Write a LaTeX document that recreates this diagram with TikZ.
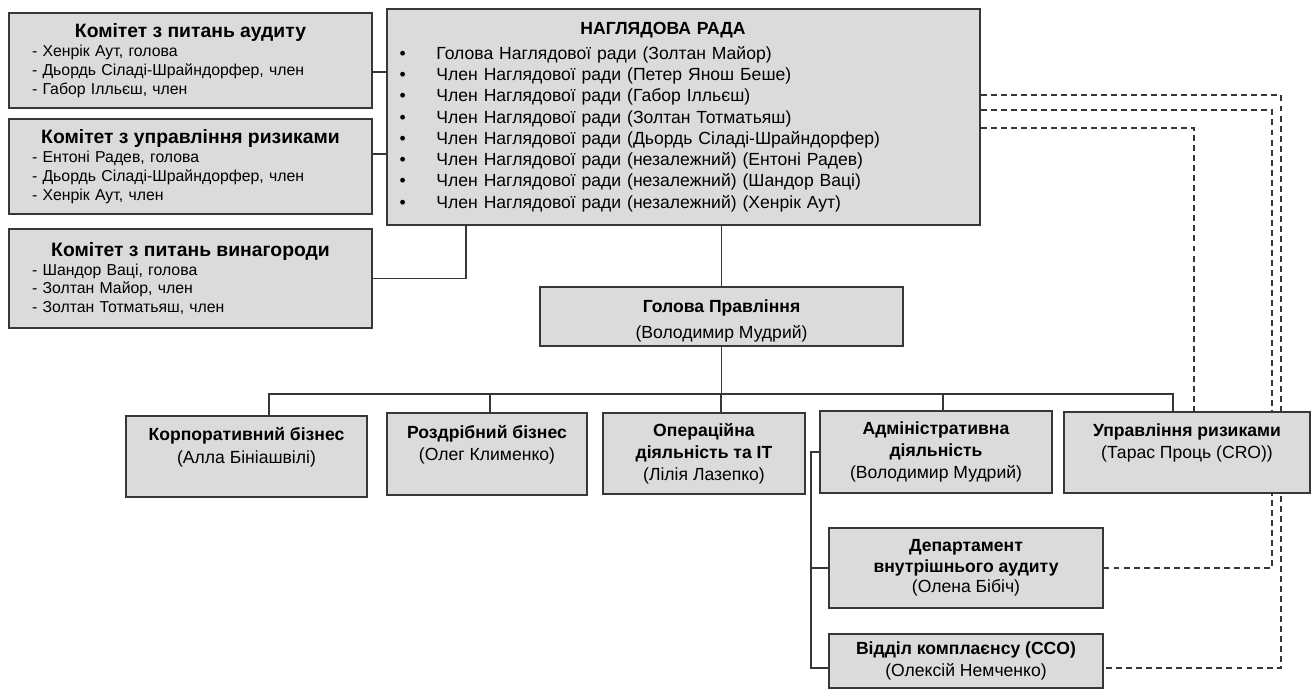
\documentclass[tikz,border=0pt]{standalone}
\usepackage{fontspec}
\setmainfont{Liberation Sans}
\usepackage{xcolor}
\usetikzlibrary{positioning,backgrounds}
\definecolor{BoxGray}{RGB}{219,219,219}
\definecolor{LineGray}{RGB}{55,55,55}
\newcommand{\bitem}[1]{\makebox[0.74cm][l]{\textbullet}#1\par}

\begin{document}
\begin{tikzpicture}[
		box/.style={draw=LineGray, line width=1.1pt, fill=BoxGray, inner sep=0pt},
		noindent/.style={execute at begin node={\setlength{\parindent}{0pt}}},
		comm/.style={box, noindent, inner xsep=0.46cm, text width=6.34cm, font=\fontsize{9}{10.8}\selectfont},
		unit/.style={box, align=center, font=\fontsize{10}{12.6}\selectfont},
		link/.style={draw=LineGray, line width=1pt},
		dashlink/.style={draw=LineGray, line width=0.9pt, dash pattern=on 3.4pt off 2.3pt}
		]
		\useasboundingbox (0,0) rectangle (26.22,-13.78);
		
		% ===== наглядова рада =====
		\node[box, noindent, inner xsep=0.25cm, text width=11.36cm, minimum height=4.32cm,
		font=\fontsize{10}{12.1}\selectfont] (board) at (13.67,-2.34) {
			{\centering\bfseries НАГЛЯДОВА РАДА\hspace*{0.82cm}\par}
			\vspace{2pt}
			\bitem{Голова Наглядової ради (Золтан Майор)}
			\bitem{Член Наглядової ради (Петер Янош Беше)}
			\bitem{Член Наглядової ради (Габор Ілльєш)}
			\bitem{Член Наглядової ради (Золтан Тотматьяш)}
			\bitem{Член Наглядової ради (Дьордь Сіладі-Шрайндорфер)}
			\bitem{Член Наглядової ради (незалежний) (Ентоні Радев)}
			\bitem{Член Наглядової ради (незалежний) (Шандор Ваці)}
			\bitem{Член Наглядової ради (незалежний) (Хенрік Аут)}
		};
		
		% ===== комітети =====
		\node[comm, minimum height=1.9cm] (auditC) at (3.81,-1.21) {
			{\centering\fontsize{11}{12}\selectfont\bfseries Комітет з питань аудиту\par}
			- Хенрік Аут, голова\par
			- Дьордь Сіладі-Шрайндорфер, член\par
			- Габор Ілльєш, член\par
		};
		\node[comm, minimum height=1.9cm] (riskC) at (3.81,-3.33) {
			{\centering\fontsize{11}{12}\selectfont\bfseries Комітет з управління ризиками\par}
			- Ентоні Радев, голова\par
			- Дьордь Сіладі-Шрайндорфер, член\par
			- Хенрік Аут, член\par
		};
		\node[comm, minimum height=1.98cm] (payC) at (3.81,-5.57) {
			{\centering\fontsize{11}{12}\selectfont\bfseries Комітет з питань винагороди\par}
			- Шандор Ваці, голова\par
			- Золтан Майор, член\par
			- Золтан Тотматьяш, член\par
		};
		
		% ===== правління =====
		\node[unit, minimum width=7.26cm, minimum height=1.18cm, text height=0.95cm] (head) at (14.43,-6.33)
		{\textbf{Голова Правління}\\[2pt](Володимир Мудрий)};
		
		\foreach \nm/\cx/\cy/\w/\txt in {
			corp/4.93/-9.13/4.82/{\textbf{Корпоративний бізнес}\\(Алла Бініашвілі)\\~},
			retail/9.74/-9.08/4.0/{\textbf{Роздрібний бізнес}\\(Олег Клименко)\\~},
			ops/14.08/-9.07/4.04/{\textbf{Операційна}\\\textbf{діяльність та ІТ}\\(Лілія Лазепко)},
			admin/18.72/-9.04/4.64/{\textbf{Адміністративна}\\\textbf{діяльність}\\(Володимир Мудрий)},
			risk/23.74/-9.05/4.92/{\textbf{Управління ризиками}\\(Тарас Проць (CRO))\\~}}{
			\node[unit, minimum width=\w cm, minimum height=1.63cm] (\nm) at (\cx,\cy) {\txt};
		}
		
		\node[unit, minimum width=5.48cm, minimum height=1.6cm, font=\fontsize{10}{11.6}\selectfont] (intA) at (19.32,-11.36)
		{\textbf{Департамент}\\\textbf{внутрішнього аудиту}\\(Олена Бібіч)};
		\node[unit, minimum width=5.48cm, minimum height=1.08cm] (compl) at (19.32,-13.22)
		{\textbf{Відділ комплаєнсу (CCO)}\\(Олексій Немченко)};
		
		% ===== зв'язки =====
		\draw[link] ([yshift=-0.23cm]auditC.east) -- ([yshift=-0.23cm]auditC.east -| board.west);
		\draw[link] ([yshift=0.25cm]riskC.east) -- ([yshift=0.25cm]riskC.east -| board.west);
		\draw[link] (payC.east) -| ([xshift=1.6cm]board.south west);
		\draw[link] (head.north) -- (head.north |- board.south);
		
		\coordinate[below=0.94cm of head.south] (bus);
		\draw[link] (head.south) -- (bus);
		\draw[link] ([xshift=0.45cm]corp.north) |- (bus) -| ([xshift=-0.28cm]risk.north);
		\foreach \nm/\dx in {retail/0.06, ops/0.34, admin/0.14}
		\draw[link] ([xshift=\dx cm]\nm.north) -- ([xshift=\dx cm]\nm.north |- bus);
		
		\draw[link] (admin.west) -- ++(-0.16,0) coordinate (adm) |- ([yshift=-0.14cm]compl.west);
		\draw[link] (adm) |- (intA.west);
		
		% ===== пунктирні лінії =====
		\begin{scope}[on background layer]
			\draw[dashlink] ([yshift=0.44cm]board.east) -| ([xshift=3.54cm,yshift=-0.14cm]compl.east) -- ([yshift=-0.14cm]compl.east);
			\draw[dashlink] ([yshift=0.14cm]board.east) -| ([xshift=3.36cm]intA.east) -- (intA.east);
			\draw[dashlink] ([yshift=-0.22cm]board.east) -| ([xshift=0.14cm]risk.north);
		\end{scope}
		
	\end{tikzpicture}
\end{document}
